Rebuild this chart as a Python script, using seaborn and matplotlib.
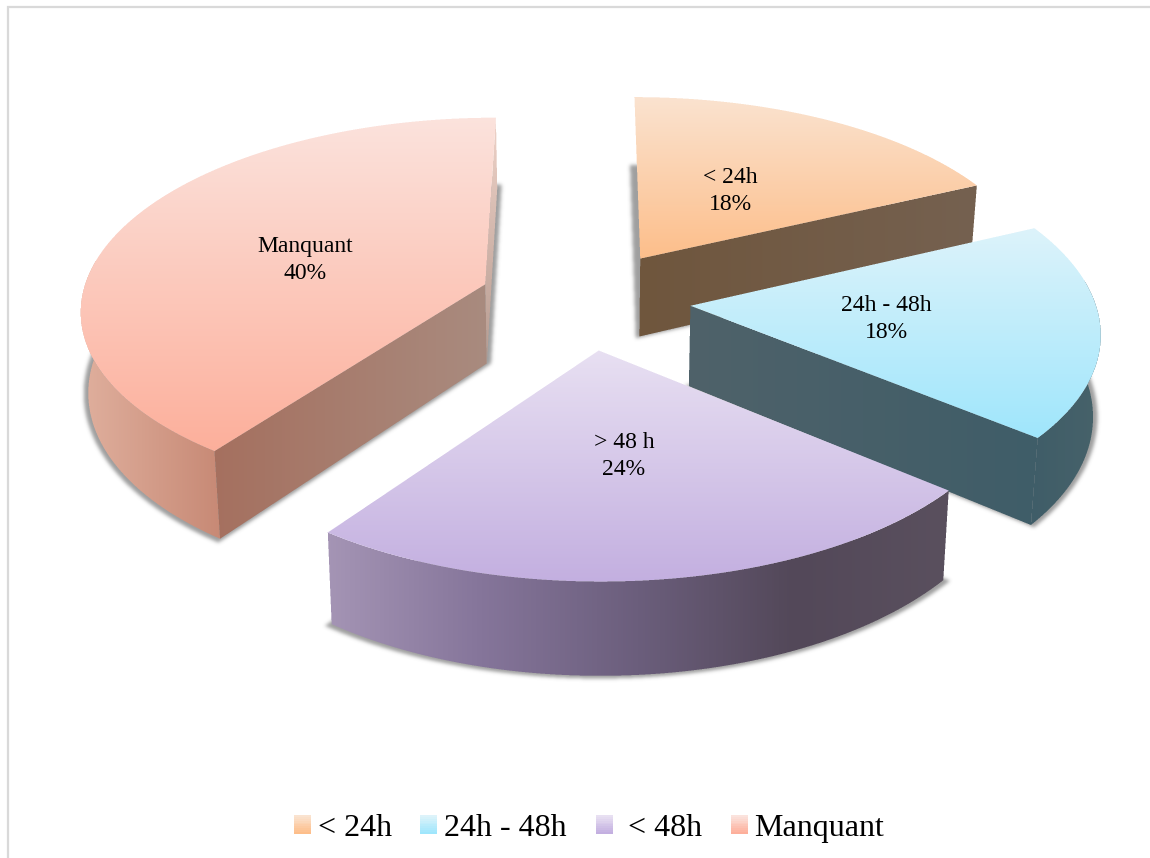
import numpy as np
import pandas as pd
import seaborn as sns
import matplotlib
matplotlib.use("Agg")
import matplotlib.pyplot as plt
from matplotlib.path import Path
from matplotlib.patches import Patch, Rectangle
from matplotlib.legend_handler import HandlerBase

# ---- data ----
slice_names = ["< 24h", "24h - 48h", "> 48 h", "Manquant"]
legend_names = ["< 24h", "24h - 48h", "\u00a0< 48h", "Manquant"]
shares = [18, 18, 24, 40]

# ---- style ----
top_colors = [["#FAE3D0", "#FDBE8A"], ["#DDF3FA", "#9FE6FC"],
              ["#E8E0F2", "#C3AFE0"], ["#FBE3DD", "#FDAF9B"]]
end_wall_colors = {0: ["#6F563D", "#756150"], 1: ["#4F626A", "#3F5D68"],
                   3: ["#A5705F", "#A98B7F"]}
arc_wall_colors = {1: ["#3F5D68", "#47626A"],
                   2: ["#A595B5", "#85759A", "#6B5E7C", "#534859", "#5A505E"],
                   3: ["#E0B09E", "#C78975"]}
label_xy = [(730, 191), (886, 319), (624, 456), (305, 260)]

sns.set_theme(style="white")
plt.rcParams["font.family"] = ["Liberation Serif", "DejaVu Serif"]

W, H_PX = 1150, 858
fig = plt.figure(figsize=(W / 100, H_PX / 100), dpi=100)
ax = fig.add_axes([0, 0, 1, 1])
ax.set_xlim(0, W)
ax.set_ylim(H_PX, 0)
ax.axis("off")

# perspective of the tilted pie
CX, CY, AX, BY, PERSP, DEPTH, SHRINK, EXPLODE = 585, 299.5, 404, 190, 0.12, 80, 0.985, 0.262


def project(X, Y, bottom=False):
    X, Y = np.asarray(X, float), np.asarray(Y, float)
    w = 1 + PERSP * Y
    sx = CX + AX * X / w
    sy = CY - BY * Y / w
    if bottom:
        sx = CX + (sx - CX) * SHRINK
        sy = sy + DEPTH / w
    return np.column_stack([sx, sy])


def coverage(poly, x0, x1, y0, y1, ss=3):
    xs = (np.arange((x1 - x0) * ss) + .5) / ss + x0
    ys = (np.arange((y1 - y0) * ss) + .5) / ss + y0
    gx, gy = np.meshgrid(xs, ys)
    inside = Path(poly).contains_points(np.column_stack([gx.ravel(), gy.ravel()]))
    m = inside.reshape(gx.shape).astype(float)
    return m.reshape(y1 - y0, ss, x1 - x0, ss).mean(axis=(1, 3))


def paint(poly, colors, vertical=True, z=2):
    x0, x1 = int(np.floor(poly[:, 0].min())) - 1, int(np.ceil(poly[:, 0].max())) + 1
    y0, y1 = int(np.floor(poly[:, 1].min())) - 1, int(np.ceil(poly[:, 1].max())) + 1
    a = coverage(poly, x0, x1, y0, y1)
    cmap = sns.blend_palette(colors, as_cmap=True)
    gy, gx = np.mgrid[y0:y1, x0:x1] + .5
    t = (gy - y0) / (y1 - y0) if vertical else (gx - x0) / (x1 - x0)
    rgba = cmap(t)
    rgba[..., 3] = a
    ax.imshow(rgba, extent=(x0, x1, y1, y0), interpolation="nearest", aspect="auto", zorder=z)


def blur(m, sigma):
    r = int(3 * sigma)
    k = np.exp(-.5 * (np.arange(-r, r + 1) / sigma) ** 2)
    k /= k.sum()
    m = np.apply_along_axis(lambda v: np.convolve(v, k, "same"), 0, m)
    return np.apply_along_axis(lambda v: np.convolve(v, k, "same"), 1, m)


def shadow(poly, scale=1.022, z=1):
    c = (poly.min(axis=0) + poly.max(axis=0)) / 2
    p = c + (poly - c) * scale
    x0, x1 = int(p[:, 0].min()) - 12, int(p[:, 0].max()) + 12
    y0, y1 = int(p[:, 1].min()) - 12, int(p[:, 1].max()) + 12
    a = blur(coverage(p, x0, x1, y0, y1, ss=2), 1.8)
    rgba = np.zeros(a.shape + (4,))
    rgba[..., :3] = 0.5
    rgba[..., 3] = a * 0.75
    ax.imshow(rgba, extent=(x0, x1, y1, y0), interpolation="bilinear", aspect="auto", zorder=z)


# ---- slices from the shares (clockwise from twelve o'clock) ----
df = pd.DataFrame({"name": slice_names, "share": shares})
df["end"] = df["share"].cumsum() * 3.6
df["start"] = df["end"] - df["share"] * 3.6

paint_order = [0, 3, 1, 2]
for n, i in enumerate(paint_order):
    a0, a1 = np.radians(df.loc[i, "start"]), np.radians(df.loc[i, "end"])
    mid = (a0 + a1) / 2
    ox, oy = EXPLODE * np.sin(mid), EXPLODE * np.cos(mid)
    th = np.linspace(a0, a1, 160)
    ax_x, ax_y = ox + np.sin(th), oy + np.cos(th)

    apex_t, apex_b = project(ox, oy), project(ox, oy, True)
    arc_t, arc_b = project(ax_x, ax_y), project(ax_x, ax_y, True)
    top = np.vstack([apex_t, arc_t])
    bottom = np.vstack([apex_b, arc_b])
    z = 10 + 10 * n

    shadow(bottom, z=z)

    # outer wall, only the part turned towards the viewer
    if i in arc_wall_colors:
        keep = (np.degrees(th) > 82) & (np.degrees(th) < 278)
        wall = np.vstack([arc_t[keep], arc_b[keep][::-1]])
        paint(wall, arc_wall_colors[i], vertical=False, z=z + 1)

    # flat cut walls
    if i in end_wall_colors:
        wall = np.vstack([apex_t, arc_t[-1] if i != 3 else arc_t[0],
                          arc_b[-1] if i != 3 else arc_b[0], apex_b])
        paint(wall, end_wall_colors[i], vertical=False, z=z + 2)
    if i == 3:
        sliver = np.vstack([apex_t, arc_t[-1], arc_b[-1], apex_b])
        paint(sliver, ["#EFD3C9", "#B59A8F"], vertical=True, z=z + 2)

    paint(top, top_colors[i], vertical=True, z=z + 3)

ax.set_xlim(0, W)
ax.set_ylim(H_PX, 0)

# ---- slice labels ----
for name, share, (lx, ly) in zip(slice_names, shares, label_xy):
    ax.text(lx, ly, f"{name}\n{share}%", ha="center", va="center", fontsize=17,
            color="black", linespacing=1.32, zorder=100)


# ---- legend ----
class Swatch(Patch):
    def __init__(self, colors):
        super().__init__(facecolor=colors[0])
        self.colors = colors


class SwatchHandler(HandlerBase):
    def create_artists(self, legend, orig, xd, yd, width, height, fontsize, trans):
        pal = sns.blend_palette(orig.colors, 10)
        return [Rectangle((-xd, -yd + height * (9 - j) / 10), width, height / 10 + .2,
                          facecolor=pal[j], edgecolor="none", transform=trans)
                for j in range(10)]


leg = ax.legend([Swatch(c) for c in top_colors], legend_names, ncol=4, frameon=False,
                loc="center", bbox_to_anchor=(589 / W, 1 - 828.5 / H_PX), fontsize=23,
                handlelength=.53, handleheight=.53, handletextpad=.22, columnspacing=.9,
                borderpad=0, borderaxespad=0, labelcolor="black",
                handler_map={Swatch: SwatchHandler()})
leg.set_zorder(100)

# ---- outer frame: only the top and left rules are inside the picture ----
ax.plot([8, 8, W], [H_PX, 7, 7], color="#D9D9D9", linewidth=1.6, zorder=0,
        solid_joinstyle="miter")

fig.savefig("out.png", dpi=100, facecolor="white")
